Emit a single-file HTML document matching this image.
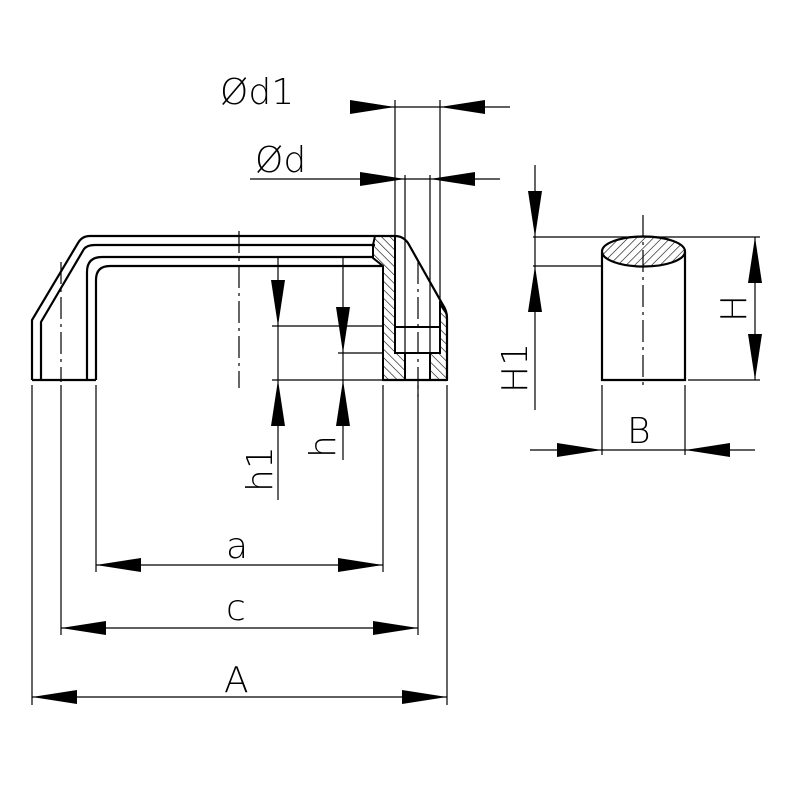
<!DOCTYPE html>
<html><head><meta charset="utf-8"><style>html,body{margin:0;padding:0;background:#fff}svg{display:block}text{font-family:"DejaVu Sans","Liberation Sans",sans-serif;font-size:36px;fill:#000;font-weight:300}</style></head>
<body>
<svg width="800" height="800" viewBox="0 0 800 800" xmlns="http://www.w3.org/2000/svg">
<defs>
<pattern id="h" width="6" height="6" patternUnits="userSpaceOnUse" patternTransform="rotate(-45)"><line x1="0" y1="0" x2="0" y2="6" stroke="#000" stroke-width="1.2"/></pattern>
<pattern id="h2" width="6" height="6" patternUnits="userSpaceOnUse" patternTransform="rotate(45)"><line x1="0" y1="0" x2="0" y2="6" stroke="#000" stroke-width="1.2"/></pattern>
</defs>
<g fill="none" stroke="#000">
<g stroke-width="2.2">
<path d="M32,380 V320 L78,243 Q82,236 90,236 H395 Q403,236 408,243 L443,305 Q447,311 447,318 V380"/>
<path d="M41,380 V322 L84,249 Q87,245 95,245 H375"/>
<path d="M87,380 V272 Q87,257 102,257 H374"/>
<path d="M96,380 V280 Q96,266 110,266 H383"/>
<path d="M32,380 H96"/>
<path d="M383,380 H447"/>
</g>
<path d="M375,236 H395 V353 H405 V380 H383 V266 L373,258 V245 Z" fill="url(#h)" stroke="#000" stroke-width="2"/>
<path d="M440,304 L444,310 Q447,313 447,318 V380 H430 V353 H440 Z" fill="url(#h)" stroke="#000" stroke-width="2"/>
<path d="M395,327 H440 M395,353 H440 M395,327 V353" stroke-width="2"/>
<g stroke-width="1.2">
<path d="M395,100 V327 M440,100 V327 M405,175 V380 M430,175 V380"/>
<path d="M350,107 H510 M250,179 H500"/>
<path d="M272,326 H383 M338,353 H383 M272,380 H383"/>
<path d="M278,257 V500 M343,257 V460"/>
<path d="M32,385 V705 M61,385 V635 M96,385 V572 M383,385 V572 M418,385 V635 M447,385 V705"/>
<path d="M96,565 H383 M61,628 H418 M32,697 H447"/>
<path d="M533,237 H760 M533,266 H602 M688,380 H760 M535,165 V410 M755,237 V380 M602,385 V455 M685,385 V455 M530,450 H755"/>
</g>
<g stroke-width="1.2" stroke-dasharray="22,5,3,5">
<path d="M239,231 V388 M61,262 V382 M418,262 V398"/>
</g>
<path d="M602,252 V380 H685 V252" stroke-width="2.2" fill="#fff"/>
<ellipse cx="643.5" cy="251.5" rx="41.5" ry="15" fill="url(#h2)" stroke-width="2.2"/>
<path d="M643,215 V388" stroke-width="1.2" stroke-dasharray="22,5,3,5"/>
</g>
<g fill="#000">
<polygon points="395,107 350,100 350,114"/><polygon points="440,107 485,100 485,114"/>
<polygon points="405,179 360,172 360,186"/><polygon points="430,179 475,172 475,186"/>
<polygon points="278,326 271,280 285,280"/><polygon points="278,380 271,426 285,426"/>
<polygon points="343,353 336,307 350,307"/><polygon points="343,380 336,426 350,426"/>
<polygon points="96,565 141,558 141,572"/><polygon points="383,565 338,558 338,572"/>
<polygon points="61,628 106,621 106,635"/><polygon points="418,628 373,621 373,635"/>
<polygon points="32,697 77,690 77,704"/><polygon points="447,697 402,690 402,704"/>
<polygon points="535,237 528,191 542,191"/><polygon points="535,266 528,312 542,312"/>
<polygon points="755,237 748,283 762,283"/><polygon points="755,380 748,334 762,334"/>
<polygon points="602,450 557,443 557,457"/><polygon points="685,450 730,443 730,457"/>
</g>
<text x="220" y="104">Ød1</text>
<text x="255" y="172">Ød</text>
<text x="226" y="558">a</text>
<text x="226" y="620">c</text>
<text x="224" y="692">A</text>
<text x="627" y="443">B</text>
<text transform="translate(272,492) rotate(-90)">h1</text>
<text transform="translate(335,458) rotate(-90)">h</text>
<text transform="translate(527,393) rotate(-90)">H1</text>
<text transform="translate(746,322) rotate(-90)">H</text>
</svg>
</body></html>
